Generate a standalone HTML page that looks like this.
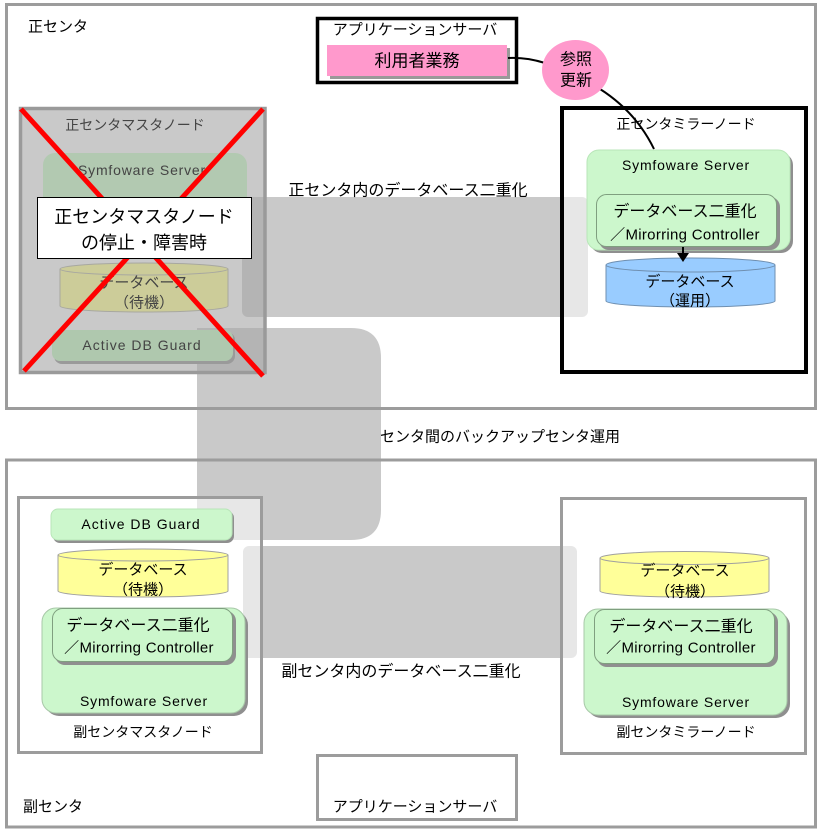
<!DOCTYPE html>
<html><head><meta charset="utf-8"><style>
html,body{margin:0;padding:0;background:#fff;}
svg{display:block;}
text{font-family:"Liberation Sans","Noto Sans CJK JP",sans-serif;fill:#000;}
</style></head><body>
<svg width="821" height="833" viewBox="0 0 821 833" xmlns="http://www.w3.org/2000/svg">
<rect x="0" y="0" width="821" height="833" fill="#fff"/>

<!-- gray bands -->
<rect x="242" y="197" width="346" height="120" rx="6" fill="#c9c9c9"/>
<path d="M197,328 H351 Q381,328 381,358 V510 Q381,540 351,540 H197 Z" fill="#c9c9c9"/>
<rect x="243" y="546" width="334" height="112" rx="6" fill="#c9c9c9"/>

<!-- outer center boxes -->
<rect x="6.5" y="4.5" width="809" height="404" fill="none" stroke="#9c9c9c" stroke-width="3"/>
<rect x="6.5" y="460" width="809" height="367" fill="none" stroke="#9c9c9c" stroke-width="3"/>

<text x="28" y="27" font-size="15" dominant-baseline="central">正センタ</text>
<text x="23" y="807" font-size="15" dominant-baseline="central">副センタ</text>

<text x="408" y="191" font-size="16" text-anchor="middle" dominant-baseline="central">正センタ内のデータベース二重化</text>
<text x="500" y="437" font-size="15" text-anchor="middle" dominant-baseline="central">センタ間のバックアップセンタ運用</text>
<text x="401" y="672" font-size="16" text-anchor="middle" dominant-baseline="central">副センタ内のデータベース二重化</text>

<!-- top master node (failed) -->
<rect x="20.5" y="108.5" width="244.5" height="264" fill="rgba(168,168,168,0.62)" stroke="#9a9a9a" stroke-width="3.5"/>
<text x="135" y="125" font-size="14" text-anchor="middle" dominant-baseline="central" style="fill:#444">正センタマスタノード</text>
<rect x="43" y="153" width="204" height="100" rx="12" fill="#b2c9b1"/>
<text x="142" y="170" font-size="14" text-anchor="middle" dominant-baseline="central" letter-spacing="0.8" style="fill:#444">Symfoware  Server</text>
<path d="M60,269 V306 A84,6 0 0 0 228,306 V269" fill="#cccc99" stroke="#a8a8a0" stroke-width="1"/>
<ellipse cx="144" cy="269" rx="84" ry="6" fill="#cccc99" stroke="#a8a8a0" stroke-width="1"/>
<text x="144" y="283" font-size="15" text-anchor="middle" dominant-baseline="central" style="fill:#444">データベース</text>
<text x="144" y="303" font-size="15" text-anchor="middle" dominant-baseline="central" style="fill:#444">（待機）</text>
<rect x="54" y="332" width="181" height="32" rx="8" fill="#9a9a9a"/>
<rect x="52" y="330" width="181" height="31" rx="8" fill="#afc8ae"/>
<text x="142" y="345" font-size="14" text-anchor="middle" dominant-baseline="central" letter-spacing="1" style="fill:#444">Active DB Guard</text>

<line x1="21" y1="109" x2="263" y2="376" stroke="#ff0000" stroke-width="5"/>
<line x1="263" y1="109" x2="24" y2="371" stroke="#ff0000" stroke-width="5"/>

<rect x="37.5" y="197.5" width="214" height="61" fill="#fff" stroke="#000" stroke-width="1"/>
<text x="144" y="217" font-size="18" text-anchor="middle" dominant-baseline="central">正センタマスタノード</text>
<text x="144" y="243" font-size="18" text-anchor="middle" dominant-baseline="central">の停止・障害時</text>

<!-- top mirror node -->
<rect x="562" y="108" width="244" height="264" fill="rgba(255,255,255,0.55)" stroke="#000" stroke-width="4"/>
<text x="686" y="124" font-size="14" text-anchor="middle" dominant-baseline="central">正センタミラーノード</text>
<rect x="590" y="153" width="203" height="100" rx="12" fill="#8f8f8f"/>
<rect x="587" y="150" width="203" height="100" rx="12" fill="#ccf7cc" stroke="#b8e6b8" stroke-width="1"/>
<text x="686" y="165" font-size="14" text-anchor="middle" dominant-baseline="central" letter-spacing="0.8">Symfoware  Server</text>
<rect x="599" y="197" width="181" height="53" rx="10" fill="#8f8f8f"/>
<rect x="596.5" y="194.5" width="180" height="52" rx="10" fill="#ccf7cc" stroke="#7f9f7f" stroke-width="1"/>
<text x="685" y="212" font-size="16" text-anchor="middle" dominant-baseline="central">データベース二重化</text>
<text x="685" y="235" font-size="15" text-anchor="middle" dominant-baseline="central" letter-spacing="0.3">／Mirorring Controller</text>
<path d="M606,265 V301 A84.5,6 0 0 0 775,301 V265" fill="#99ccff" stroke="#6f8fb0" stroke-width="1"/>
<ellipse cx="690.5" cy="265" rx="84.5" ry="7" fill="#99ccff" stroke="#6f8fb0" stroke-width="1"/>
<line x1="683" y1="247" x2="683" y2="255" stroke="#000" stroke-width="2"/>
<polygon points="677,253 689,253 683,262" fill="#000"/>
<text x="690" y="282" font-size="15" text-anchor="middle" dominant-baseline="central">データベース</text>
<text x="690" y="301" font-size="15" text-anchor="middle" dominant-baseline="central">（運用）</text>

<!-- top application server -->
<rect x="317.5" y="18.5" width="199" height="64" fill="#fff" stroke="#000" stroke-width="3.5"/>
<text x="415" y="30" font-size="15" text-anchor="middle" dominant-baseline="central">アプリケーションサーバ</text>
<rect x="330" y="48" width="180" height="31" fill="#999"/>
<rect x="327" y="45" width="180" height="31" fill="#ff99cc"/>
<text x="417" y="61" font-size="17" text-anchor="middle" dominant-baseline="central">利用者業務</text>

<!-- connectors -->
<path d="M508,58 Q526,57 545,63" fill="none" stroke="#000" stroke-width="2"/>
<path d="M600,89 Q636,112 654,149" fill="none" stroke="#000" stroke-width="2"/>
<ellipse cx="575.5" cy="70" rx="33.5" ry="30" fill="#ff99cc"/>
<text x="576" y="60" font-size="16" text-anchor="middle" dominant-baseline="central">参照</text>
<text x="576" y="81" font-size="16" text-anchor="middle" dominant-baseline="central">更新</text>

<!-- bottom master node -->
<rect x="18.5" y="497.5" width="243" height="255" fill="rgba(255,255,255,0.55)" stroke="#9c9c9c" stroke-width="3"/>
<rect x="53" y="511" width="181" height="32" rx="7" fill="#8f8f8f"/>
<rect x="51" y="509" width="181" height="31" rx="7" fill="#ccf7cc" stroke="#b8e6b8" stroke-width="1"/>
<text x="141" y="524" font-size="14" text-anchor="middle" dominant-baseline="central" letter-spacing="1">Active DB Guard</text>
<path d="M58,555 V591 A85,6 0 0 0 228,591 V555" fill="#ffff99" stroke="#a0a0a0" stroke-width="1"/>
<ellipse cx="143" cy="555" rx="85" ry="6" fill="#ffff99" stroke="#a0a0a0" stroke-width="1"/>
<text x="143" y="570" font-size="15" text-anchor="middle" dominant-baseline="central">データベース</text>
<text x="143" y="590" font-size="15" text-anchor="middle" dominant-baseline="central">（待機）</text>
<rect x="45" y="611" width="203" height="105" rx="14" fill="#8f8f8f"/>
<rect x="42" y="608" width="203" height="105" rx="14" fill="#ccf7cc" stroke="#a8c8a8" stroke-width="1"/>
<rect x="55" y="611" width="181" height="54" rx="10" fill="#8f8f8f"/>
<rect x="52.5" y="608.5" width="180" height="53" rx="10" fill="#ccf7cc" stroke="#7f9f7f" stroke-width="1"/>
<text x="138" y="626" font-size="16" text-anchor="middle" dominant-baseline="central">データベース二重化</text>
<text x="139" y="648" font-size="15" text-anchor="middle" dominant-baseline="central" letter-spacing="0.3">／Mirorring Controller</text>
<text x="144" y="701" font-size="14" text-anchor="middle" dominant-baseline="central" letter-spacing="0.8">Symfoware  Server</text>
<text x="143" y="732" font-size="14" text-anchor="middle" dominant-baseline="central">副センタマスタノード</text>

<!-- bottom mirror node -->
<rect x="561.5" y="498.5" width="244" height="255" fill="rgba(255,255,255,0.55)" stroke="#9c9c9c" stroke-width="3"/>
<path d="M600,558 V591 A84.5,6 0 0 0 769,591 V558" fill="#ffff99" stroke="#a0a0a0" stroke-width="1"/>
<ellipse cx="684.5" cy="558" rx="84.5" ry="6.5" fill="#ffff99" stroke="#a0a0a0" stroke-width="1"/>
<text x="685" y="571" font-size="15" text-anchor="middle" dominant-baseline="central">データベース</text>
<text x="685" y="592" font-size="15" text-anchor="middle" dominant-baseline="central">（待機）</text>
<rect x="587" y="612" width="203" height="106" rx="14" fill="#8f8f8f"/>
<rect x="584" y="609" width="203" height="106" rx="14" fill="#ccf7cc" stroke="#a8c8a8" stroke-width="1"/>
<rect x="597" y="612" width="181" height="55" rx="10" fill="#8f8f8f"/>
<rect x="594.5" y="609.5" width="180" height="54" rx="10" fill="#ccf7cc" stroke="#7f9f7f" stroke-width="1"/>
<text x="681" y="627" font-size="16" text-anchor="middle" dominant-baseline="central">データベース二重化</text>
<text x="681" y="648" font-size="15" text-anchor="middle" dominant-baseline="central" letter-spacing="0.3">／Mirorring Controller</text>
<text x="686" y="702" font-size="14" text-anchor="middle" dominant-baseline="central" letter-spacing="0.8">Symfoware  Server</text>
<text x="686" y="732" font-size="14" text-anchor="middle" dominant-baseline="central">副センタミラーノード</text>

<!-- bottom application server -->
<rect x="317.5" y="755.5" width="199" height="64" fill="#fff" stroke="#9c9c9c" stroke-width="3"/>
<text x="415" y="807" font-size="15" text-anchor="middle" dominant-baseline="central">アプリケーションサーバ</text>
</svg>
</body></html>
